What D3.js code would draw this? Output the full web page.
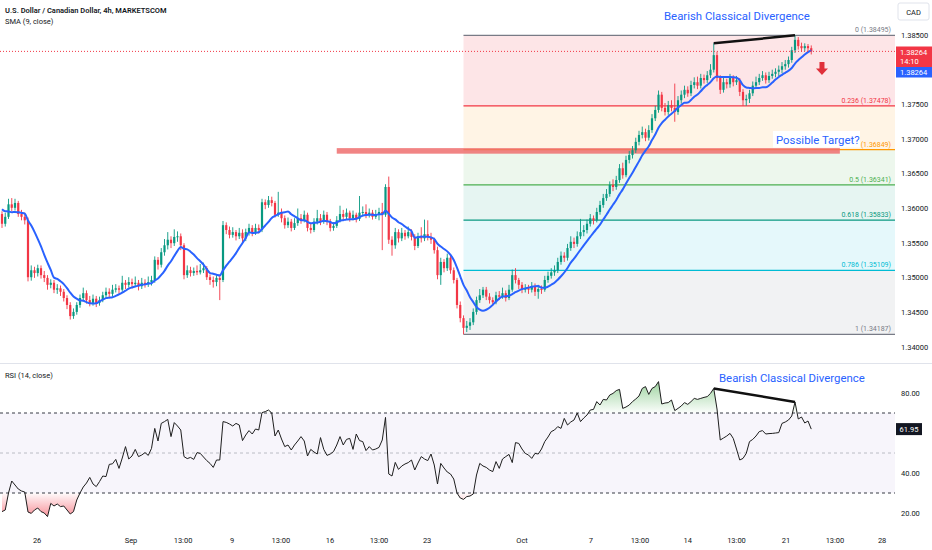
<!DOCTYPE html>
<html>
<head>
<meta charset="utf-8">
<script src="https://cdn.jsdelivr.net/npm/d3@7"></script>
<style>
  body { margin: 0; background: #fff; }
  svg { display: block; font-family: Roboto, "Noto Sans", sans-serif; }
</style>
</head>
<body>
<div id="chart"></div>
<script>
// USDCAD 4h, values (one entry per candle)
const opens = [
  1.3592,1.3578,1.3588,1.3606,1.3601,1.3608,1.3592,1.3588,1.3583,1.3501,
  1.3511,1.3507,1.3514,1.3504,1.3500,1.3490,1.3493,1.3483,1.3485,1.3480,
  1.3471,1.3461,1.3445,1.3451,1.3461,1.3471,1.3478,1.3468,1.3464,1.3470,
  1.3464,1.3468,1.3475,1.3480,1.3477,1.3483,1.3485,1.3483,1.3493,1.3490,
  1.3494,1.3491,1.3493,1.3488,1.3493,1.3491,1.3494,1.3497,1.3526,1.3519,
  1.3537,1.3547,1.3555,1.3550,1.3559,1.3560,1.3547,1.3504,1.3511,1.3507,
  1.3510,1.3508,1.3511,1.3514,1.3501,1.3497,1.3494,1.3500,1.3497,1.3576,
  1.3569,1.3562,1.3566,1.3560,1.3565,1.3557,1.3566,1.3572,1.3565,1.3572,
  1.3569,1.3609,1.3605,1.3612,1.3608,1.3591,1.3594,1.3586,1.3576,1.3581,
  1.3572,1.3579,1.3586,1.3583,1.3591,1.3572,1.3569,1.3581,1.3586,1.3581,
  1.3591,1.3581,1.3572,1.3575,1.3583,1.3592,1.3588,1.3594,1.3586,1.3591,
  1.3585,1.3594,1.3595,1.3591,1.3594,1.3588,1.3592,1.3595,1.3591,1.3631,
  1.3555,1.3547,1.3566,1.3557,1.3565,1.3560,1.3566,1.3559,1.3546,1.3560,
  1.3557,1.3563,1.3559,1.3555,1.3540,1.3504,1.3523,1.3514,1.3529,1.3511,
  1.3497,1.3461,1.3442,1.3428,1.3431,1.3436,1.3451,1.3468,1.3475,1.3483,
  1.3473,1.3468,1.3465,1.3475,1.3473,1.3478,1.3471,1.3483,1.3504,1.3497,
  1.3490,1.3483,1.3485,1.3483,1.3488,1.3480,1.3484,1.3483,1.3497,1.3503,
  1.3508,1.3511,1.3523,1.3532,1.3529,1.3543,1.3552,1.3549,1.3560,1.3566,
  1.3569,1.3578,1.3586,1.3583,1.3595,1.3605,1.3615,1.3621,1.3634,1.3631,
  1.3641,1.3658,1.3648,1.3670,1.3677,1.3684,1.3696,1.3706,1.3710,1.3702,
  1.3713,1.3730,1.3742,1.3764,1.3745,1.3739,1.3749,1.3745,1.3739,1.3756,
  1.3764,1.3771,1.3766,1.3778,1.3782,1.3777,1.3788,1.3785,1.3792,1.3800,
  1.3821,1.3788,1.3771,1.3782,1.3779,1.3788,1.3782,1.3785,1.3768,1.3756,
  1.3758,1.3766,1.3777,1.3782,1.3788,1.3792,1.3785,1.3791,1.3794,1.3797,
  1.3800,1.3805,1.3808,1.3814,1.3828,1.3843,1.3834,1.3831,1.3834,1.3831
];
const highs = [
  1.3596,1.3594,1.3614,1.3615,1.3614,1.3611,1.3598,1.3594,1.3587,1.3518,
  1.3516,1.3519,1.3518,1.3510,1.3504,1.3498,1.3497,1.3491,1.3489,1.3484,
  1.3475,1.3465,1.3456,1.3465,1.3476,1.3486,1.3482,1.3474,1.3476,1.3474,
  1.3473,1.3480,1.3486,1.3485,1.3490,1.3491,1.3489,1.3503,1.3497,1.3501,
  1.3499,1.3502,1.3497,1.3500,1.3498,1.3502,1.3503,1.3531,1.3530,1.3543,
  1.3556,1.3566,1.3560,1.3570,1.3567,1.3564,1.3550,1.3518,1.3516,1.3515,
  1.3518,1.3520,1.3522,1.3517,1.3505,1.3502,1.3504,1.3505,1.3582,1.3580,
  1.3574,1.3573,1.3569,1.3572,1.3570,1.3571,1.3578,1.3576,1.3578,1.3577,
  1.3614,1.3613,1.3618,1.3617,1.3611,1.3624,1.3600,1.3590,1.3587,1.3585,
  1.3586,1.3600,1.3592,1.3597,1.3594,1.3578,1.3586,1.3598,1.3592,1.3597,
  1.3595,1.3585,1.3580,1.3589,1.3604,1.3598,1.3600,1.3597,1.3597,1.3594,
  1.3618,1.3603,1.3606,1.3600,1.3598,1.3598,1.3601,1.3608,1.3635,1.3646,
  1.3560,1.3572,1.3570,1.3572,1.3569,1.3574,1.3570,1.3563,1.3565,1.3573,
  1.3584,1.3583,1.3565,1.3558,1.3545,1.3529,1.3527,1.3535,1.3533,1.3515,
  1.3500,1.3466,1.3446,1.3438,1.3442,1.3456,1.3473,1.3484,1.3487,1.3487,
  1.3478,1.3472,1.3480,1.3481,1.3486,1.3482,1.3490,1.3512,1.3514,1.3500,
  1.3494,1.3491,1.3490,1.3494,1.3492,1.3490,1.3489,1.3503,1.3509,1.3514,
  1.3518,1.3529,1.3538,1.3537,1.3549,1.3560,1.3558,1.3567,1.3585,1.3576,
  1.3584,1.3592,1.3590,1.3601,1.3611,1.3621,1.3628,1.3639,1.3642,1.3647,
  1.3664,1.3666,1.3676,1.3683,1.3690,1.3702,1.3712,1.3718,1.3715,1.3720,
  1.3736,1.3748,1.3770,1.3768,1.3752,1.3755,1.3756,1.3780,1.3762,1.3770,
  1.3777,1.3776,1.3784,1.3789,1.3790,1.3794,1.3793,1.3798,1.3808,1.3838,
  1.3826,1.3792,1.3788,1.3787,1.3794,1.3792,1.3791,1.3788,1.3772,1.3764,
  1.3771,1.3783,1.3790,1.3794,1.3798,1.3796,1.3797,1.3800,1.3802,1.3806,
  1.3811,1.3814,1.3819,1.3833,1.38495,1.3847,1.3839,1.3838,1.3837,1.3835
];
const lows = [
  1.3572,1.3574,1.3585,1.3596,1.3597,1.3588,1.3583,1.3577,1.3495,1.3496,
  1.3500,1.3502,1.3499,1.3494,1.3483,1.3485,1.3478,1.3477,1.3474,1.3466,
  1.3455,1.3440,1.3441,1.3447,1.3457,1.3467,1.3463,1.3459,1.3460,1.3458,
  1.3460,1.3465,1.3471,1.3472,1.3473,1.3479,1.3477,1.3480,1.3484,1.3486,
  1.3485,1.3487,1.3482,1.3484,1.3486,1.3487,1.3489,1.3493,1.3512,1.3515,
  1.3532,1.3541,1.3543,1.3546,1.3552,1.3540,1.3498,1.3500,1.3502,1.3503,
  1.3504,1.3505,1.3507,1.3497,1.3490,1.3486,1.3488,1.3468,1.3494,1.3563,
  1.3557,1.3558,1.3554,1.3556,1.3551,1.3553,1.3561,1.3560,1.3562,1.3564,
  1.3566,1.3599,1.3601,1.3603,1.3587,1.3588,1.3580,1.3571,1.3572,1.3567,
  1.3569,1.3575,1.3578,1.3580,1.3567,1.3564,1.3566,1.3577,1.3576,1.3578,
  1.3576,1.3567,1.3568,1.3572,1.3580,1.3583,1.3584,1.3581,1.3583,1.3580,
  1.3582,1.3589,1.3586,1.3587,1.3584,1.3585,1.3583,1.3540,1.3588,1.3549,
  1.3532,1.3542,1.3551,1.3553,1.3555,1.3557,1.3554,1.3540,1.3543,1.3551,
  1.3553,1.3554,1.3549,1.3535,1.3498,1.3490,1.3508,1.3510,1.3506,1.3492,
  1.3456,1.3436,1.34187,1.3422,1.3425,1.3432,1.3447,1.3464,1.3471,1.3468,
  1.3463,1.3460,1.3462,1.3468,1.3470,1.3466,1.3468,1.3480,1.3492,1.3484,
  1.3478,1.3479,1.3477,1.3479,1.3474,1.3470,1.3477,1.3480,1.3493,1.3499,
  1.3503,1.3507,1.3519,1.3523,1.3525,1.3539,1.3543,1.3545,1.3556,1.3560,
  1.3564,1.3574,1.3577,1.3580,1.3591,1.3601,1.3611,1.3617,1.3625,1.3627,
  1.3637,1.3643,1.3645,1.3665,1.3672,1.3680,1.3691,1.3701,1.3697,1.3698,
  1.3709,1.3726,1.3738,1.3740,1.3734,1.3735,1.3740,1.3725,1.3735,1.3751,
  1.3759,1.3761,1.3762,1.3773,1.3772,1.3773,1.3780,1.3781,1.3788,1.3796,
  1.3783,1.3765,1.3767,1.3773,1.3774,1.3776,1.3778,1.3762,1.3748,1.3748,
  1.3752,1.3762,1.3773,1.3778,1.3784,1.3780,1.3781,1.3787,1.3789,1.3791,
  1.3795,1.3800,1.3803,1.3810,1.3824,1.3829,1.3826,1.3827,1.3826,1.3822
];
const closes = [
  1.3578,1.3588,1.3606,1.3601,1.3608,1.3592,1.3588,1.3583,1.3501,1.3511,
  1.3507,1.3514,1.3504,1.3500,1.3490,1.3493,1.3483,1.3485,1.3480,1.3471,
  1.3461,1.3445,1.3451,1.3461,1.3471,1.3478,1.3468,1.3464,1.3470,1.3464,
  1.3468,1.3475,1.3480,1.3477,1.3483,1.3485,1.3483,1.3493,1.3490,1.3494,
  1.3491,1.3493,1.3488,1.3493,1.3491,1.3494,1.3497,1.3526,1.3519,1.3537,
  1.3547,1.3555,1.3550,1.3559,1.3560,1.3547,1.3504,1.3511,1.3507,1.3510,
  1.3508,1.3511,1.3514,1.3501,1.3497,1.3494,1.3500,1.3497,1.3576,1.3569,
  1.3562,1.3566,1.3560,1.3565,1.3557,1.3566,1.3572,1.3565,1.3572,1.3569,
  1.3609,1.3605,1.3612,1.3608,1.3591,1.3594,1.3586,1.3576,1.3581,1.3572,
  1.3579,1.3586,1.3583,1.3591,1.3572,1.3569,1.3581,1.3586,1.3581,1.3591,
  1.3581,1.3572,1.3575,1.3583,1.3592,1.3588,1.3594,1.3586,1.3591,1.3585,
  1.3594,1.3595,1.3591,1.3594,1.3588,1.3592,1.3595,1.3591,1.3631,1.3555,
  1.3547,1.3566,1.3557,1.3565,1.3560,1.3566,1.3559,1.3546,1.3560,1.3557,
  1.3563,1.3559,1.3555,1.3540,1.3504,1.3523,1.3514,1.3529,1.3511,1.3497,
  1.3461,1.3442,1.3428,1.3431,1.3436,1.3451,1.3468,1.3475,1.3483,1.3473,
  1.3468,1.3465,1.3475,1.3473,1.3478,1.3471,1.3483,1.3504,1.3497,1.3490,
  1.3483,1.3485,1.3483,1.3488,1.3480,1.3484,1.3483,1.3497,1.3503,1.3508,
  1.3511,1.3523,1.3532,1.3529,1.3543,1.3552,1.3549,1.3560,1.3566,1.3569,
  1.3578,1.3586,1.3583,1.3595,1.3605,1.3615,1.3621,1.3634,1.3631,1.3641,
  1.3658,1.3648,1.3670,1.3677,1.3684,1.3696,1.3706,1.3710,1.3702,1.3713,
  1.3730,1.3742,1.3764,1.3745,1.3739,1.3749,1.3745,1.3739,1.3756,1.3764,
  1.3771,1.3766,1.3778,1.3782,1.3777,1.3788,1.3785,1.3792,1.3800,1.3821,
  1.3788,1.3771,1.3782,1.3779,1.3788,1.3782,1.3785,1.3768,1.3756,1.3758,
  1.3766,1.3777,1.3782,1.3788,1.3792,1.3785,1.3791,1.3794,1.3797,1.3800,
  1.3805,1.3808,1.3814,1.3828,1.3843,1.3834,1.3831,1.3834,1.3831,1.38264
];
// the 8 closes before the first visible bar, only needed to start the SMA
const priorCloses = [1.3615,1.3608,1.3612,1.3603,1.3598,1.3595,1.3592,1.3590];

const rsi = [
  20.7,21.5,30,36,34,32,31,30.5,20.5,19.8,
  21.5,22.5,20.7,20,18.2,24.8,23.5,24.5,23.2,23.5,
  21.5,19.5,20.7,26.5,30,33,35,37.8,34.5,33.2,
  35.7,38.5,38.2,44.3,44.6,46.8,42.3,47.5,53.2,47,
  48.5,51.8,48.2,49,50.2,48.8,52.3,62.3,56,64.8,
  65.7,66.8,58.2,65.2,63.5,61.5,48.2,47.2,47.8,46.8,
  50.2,49.8,48,46.2,44.8,42.8,46.5,46.5,65.7,65.3,
  64.5,63.5,64.8,64,56.2,59,61.2,59.5,62,61.5,
  70.2,70.7,71.5,70,58.5,61.5,57,53.2,54,51.5,
  54,56,58.2,56,48.5,51.8,50.5,49.5,57.7,51.8,
  48.8,49.5,50.7,54,58.2,54,56.8,57.3,51.8,59.5,
  56.2,55.7,51.2,53.2,51.5,52,52.8,56.5,67.8,39.5,
  38.5,45.3,41.8,43.5,44.5,45.2,46.5,41.5,45,48.2,
  47,46.2,49.5,44,34.5,44.8,42.5,40.5,39.5,37,
  30,27.5,26.8,28.2,28.5,29.5,39,44.8,43.5,42.8,
  41.5,40.7,45.7,42.3,47,48.2,49.3,45.2,55.2,54.8,
  52,49.8,49,47.3,49.8,49.5,52,55.7,58,60.7,
  61.5,63.2,62.3,67.3,64,65.5,66.5,70,65.7,67.5,
  69,71.5,71.8,75.7,74,76.8,76.5,79,79.8,81.2,
  81.8,72.3,73,74,75.7,77,78.5,82.3,83.2,79.3,
  82.3,83.2,85.7,74.5,75,75.2,76.5,71.2,72.3,73.5,
  75.2,74.3,75.7,77.3,76.8,77.3,77.8,78.2,79.8,82.3,
  72,56.5,57.5,58.5,59.8,57.3,52,46.5,47.3,49.8,
  55.7,56.8,58.5,60.7,61.2,59.5,59.7,59.8,60,60.2,
  64.8,65.5,66.5,68.5,75.5,67,68,65,66,61.95
];

// time axis: bar index of each label
const tickIndex  = [10.8, 39.7, 55.7, 70.8, 85.8, 100.9, 116, 130.8, 160, 181.2, 196.3, 211, 226, 241.2, 256.3, 270.8];
const tickLabels = ["26", "Sep", "13:00", "9", "13:00", "16", "13:00", "23", "Oct", "7", "13:00", "14", "13:00", "21", "13:00", "28"];
// 1.38000 and 60.00 sit under the value tags on the screenshot, so they are not listed
const priceTicks = [1.340, 1.345, 1.350, 1.355, 1.360, 1.365, 1.370, 1.375, 1.385];
const rsiTicks = [20, 40, 80];

// fib retracement drawn from the swing low bar to the swing high
const fibRatios = [0, 0.236, 0.382, 0.5, 0.618, 0.786, 1];
const fibHigh = 1.38495, fibLow = 1.34187, fibStartBar = 142;
const fibColors = ["#787b86", "#f23645", "#ff9800", "#4caf50", "#089981", "#00bcd4", "#787b86"];

// drawings
const targetZone = [1.3679, 1.3687], targetBars = [103, 257.8];
const divBars = [219, 244];           // price highs / rsi highs joined by the divergence lines
const divRsi = [82.3, 75.5];
const arrowBar = 252.3, arrowTop = 1.3811;
const lastPrice = "1.38264", lastSma = "1.38264", barCountdown = "14:10", lastRsi = "61.95";

const W = 932, H = 550, plotRight = 895;
const up = "#089981", down = "#f23645", blue = "#2962ff";

const x = d3.scaleLinear().domain([0, closes.length - 1]).range([2, 2 + 3.25 * (closes.length - 1)]);
const y = d3.scaleLinear().domain([1.340, 1.385]).range([347.3, 35]);
const yR = d3.scaleLinear().domain([20, 80]).range([513, 393]);

const svg = d3.select("#chart").append("svg")
  .attr("width", W).attr("height", H)
  .attr("viewBox", [0, 0, W, H]);

const defs = svg.append("defs");
defs.append("clipPath").attr("id", "clipMain")
  .append("rect").attr("x", 0).attr("y", 0).attr("width", plotRight).attr("height", 363);
defs.append("clipPath").attr("id", "clipRsi")
  .append("rect").attr("x", 0).attr("y", 364).attr("width", plotRight).attr("height", 160);

const main = svg.append("g").attr("clip-path", "url(#clipMain)");

// ---- fib retracement ----
const fibPrice = fibRatios.map(r => fibHigh - (fibHigh - fibLow) * r);
const fibG = main.append("g");
fibG.selectAll("rect").data(d3.range(fibRatios.length - 1)).join("rect")
  .attr("x", x(fibStartBar)).attr("width", plotRight - x(fibStartBar))
  .attr("y", k => y(fibPrice[k]))
  .attr("height", k => y(fibPrice[k + 1]) - y(fibPrice[k]))
  .attr("fill", k => fibColors[k + 1])
  .attr("fill-opacity", k => k === 0 ? 0.13 : 0.1);
fibG.selectAll("line").data(fibPrice).join("line")
  .attr("x1", x(fibStartBar)).attr("x2", plotRight)
  .attr("y1", d => y(d)).attr("y2", d => y(d))
  .attr("stroke", (d, k) => fibColors[k]).attr("stroke-width", 1.2);
// the 0.382 ratio is hidden behind the "Possible Target?" note, only its price shows
fibG.selectAll("text").data(fibPrice).join("text")
  .attr("x", 891).attr("y", d => y(d) - 3)
  .attr("text-anchor", "end")
  .attr("font-size", 7)
  .attr("fill", (d, k) => fibColors[k])
  .text((d, k) => fibRatios[k] === 0.382 ? `(${d.toFixed(5)})` : `${fibRatios[k]} (${d.toFixed(5)})`);

// ---- target zone ----
main.append("rect")
  .attr("x", x(targetBars[0])).attr("width", x(targetBars[1]) - x(targetBars[0]))
  .attr("y", y(targetZone[1])).attr("height", y(targetZone[0]) - y(targetZone[1]))
  .attr("fill", "#ef6f6f").attr("fill-opacity", 0.85);

// ---- candles ----
const bars = d3.range(closes.length);
const colorOf = i => closes[i] >= opens[i] ? up : down;
const cg = main.append("g");
cg.selectAll("line").data(bars).join("line")
  .attr("x1", i => x(i)).attr("x2", i => x(i))
  .attr("y1", i => y(highs[i])).attr("y2", i => y(lows[i]))
  .attr("stroke", colorOf).attr("stroke-width", 0.9);
cg.selectAll("rect").data(bars).join("rect")
  .attr("x", i => x(i) - 1.1).attr("width", 2.2)
  .attr("y", i => y(Math.max(opens[i], closes[i])))
  .attr("height", i => Math.max(1, Math.abs(y(opens[i]) - y(closes[i]))))
  .attr("fill", colorOf);

// ---- SMA 9 ----
const allCloses = priorCloses.concat(closes);
const sma = closes.map((c, i) => d3.mean(allCloses.slice(i, i + 9)));
main.append("path").datum(sma)
  .attr("d", d3.line().x((d, i) => x(i)).y(d => y(d)).curve(d3.curveMonotoneX))
  .attr("fill", "none").attr("stroke", blue).attr("stroke-width", 2);

// last price dotted line
main.append("line")
  .attr("x1", 0).attr("x2", plotRight)
  .attr("y1", y(+lastPrice)).attr("y2", y(+lastPrice))
  .attr("stroke", down).attr("stroke-width", 1).attr("stroke-dasharray", "1,2");

// divergence on price
main.append("line")
  .attr("x1", x(divBars[0])).attr("y1", y(highs[divBars[0]]))
  .attr("x2", x(divBars[1])).attr("y2", y(highs[divBars[1]]))
  .attr("stroke", "#111").attr("stroke-width", 2.5);

// down arrow
const ax = x(arrowBar), ay = y(arrowTop);
main.append("path")
  .attr("d", `M${ax - 2.5},${ay} h5 v6.5 h3.5 l-6,6.5 l-6,-6.5 h3.5 z`)
  .attr("fill", "#e0303a");

// annotations
svg.append("text").attr("x", 664).attr("y", 19.5)
  .attr("font-size", 11.4).attr("fill", blue)
  .text("Bearish Classical Divergence");
svg.append("rect").attr("x", 773).attr("y", 131).attr("width", 87).attr("height", 16.5).attr("fill", "#fff");
svg.append("text").attr("x", 776).attr("y", 143.8)
  .attr("font-size", 11.4).attr("fill", blue)
  .text("Possible Target?");

// legend
svg.append("text").attr("x", 5).attr("y", 13)
  .attr("font-size", 7.5).attr("font-weight", 600).attr("fill", "#131722")
  .text("U.S. Dollar / Canadian Dollar, 4h, MARKETSCOM");
svg.append("text").attr("x", 5).attr("y", 24)
  .attr("font-size", 7.5).attr("fill", "#131722")
  .text("SMA (9, close)");

// ---- price axis ----
svg.append("g").selectAll("text").data(priceTicks).join("text")
  .attr("x", 901).attr("y", d => y(d) + 2.5)
  .attr("font-size", 7.5).attr("fill", "#131722")
  .text(d => d.toFixed(5));
svg.append("rect").attr("x", 898).attr("y", 3).attr("width", 31).attr("height", 17).attr("rx", 2)
  .attr("fill", "#fff").attr("stroke", "#e0e3eb");
svg.append("text").attr("x", 913.5).attr("y", 14.5).attr("text-anchor", "middle")
  .attr("font-size", 7.5).attr("fill", "#131722").text("CAD");

svg.append("rect").attr("x", 896).attr("y", 46.5).attr("width", 36).attr("height", 20.5).attr("fill", down);
svg.append("text").attr("x", 900).attr("y", 55).attr("font-size", 7.5).attr("fill", "#fff").text(lastPrice);
svg.append("text").attr("x", 900).attr("y", 64).attr("font-size", 7.5).attr("fill", "#fff").text(barCountdown);
svg.append("rect").attr("x", 896).attr("y", 67).attr("width", 36).attr("height", 10.5).attr("fill", blue);
svg.append("text").attr("x", 900).attr("y", 75).attr("font-size", 7.5).attr("fill", "#fff").text(lastSma);

// ---- RSI pane ----
svg.append("line").attr("x1", 0).attr("x2", W).attr("y1", 363.5).attr("y2", 363.5)
  .attr("stroke", "#e0e3eb");
svg.append("text").attr("x", 5).attr("y", 378)
  .attr("font-size", 7.5).attr("fill", "#131722").text("RSI (14, close)");

const rg = svg.append("g").attr("clip-path", "url(#clipRsi)");
rg.append("rect").attr("x", 0).attr("width", plotRight)
  .attr("y", yR(70)).attr("height", yR(30) - yR(70))
  .attr("fill", "#7e57c2").attr("fill-opacity", 0.06);

const gUp = defs.append("linearGradient").attr("id", "gUp")
  .attr("gradientUnits", "userSpaceOnUse").attr("x1", 0).attr("x2", 0).attr("y1", yR(86)).attr("y2", yR(70));
gUp.append("stop").attr("offset", 0).attr("stop-color", "#4caf50").attr("stop-opacity", 0.55);
gUp.append("stop").attr("offset", 1).attr("stop-color", "#4caf50").attr("stop-opacity", 0.02);
const gDn = defs.append("linearGradient").attr("id", "gDn")
  .attr("gradientUnits", "userSpaceOnUse").attr("x1", 0).attr("x2", 0).attr("y1", yR(30)).attr("y2", yR(18));
gDn.append("stop").attr("offset", 0).attr("stop-color", "#f23645").attr("stop-opacity", 0.02);
gDn.append("stop").attr("offset", 1).attr("stop-color", "#f23645").attr("stop-opacity", 0.55);

rg.append("path").datum(rsi)
  .attr("d", d3.area().x((d, i) => x(i)).y0(yR(70)).y1(d => yR(Math.max(d, 70))))
  .attr("fill", "url(#gUp)");
rg.append("path").datum(rsi)
  .attr("d", d3.area().x((d, i) => x(i)).y0(yR(30)).y1(d => yR(Math.min(d, 30))))
  .attr("fill", "url(#gDn)");

rg.selectAll("line.band").data([70, 50, 30]).join("line").attr("class", "band")
  .attr("x1", 0).attr("x2", plotRight)
  .attr("y1", d => yR(d)).attr("y2", d => yR(d))
  .attr("stroke", d => d === 50 ? "#9598a1" : "#363a45")
  .attr("stroke-opacity", d => d === 50 ? 0.6 : 1)
  .attr("stroke-dasharray", "3,3");

rg.append("path").datum(rsi)
  .attr("d", d3.line().x((d, i) => x(i)).y(d => yR(d)))
  .attr("fill", "none").attr("stroke", "#1e1e1e").attr("stroke-width", 1);

rg.append("line")
  .attr("x1", x(divBars[0])).attr("y1", yR(divRsi[0]))
  .attr("x2", x(divBars[1])).attr("y2", yR(divRsi[1]))
  .attr("stroke", "#111").attr("stroke-width", 2.5);

svg.append("text").attr("x", 719).attr("y", 381.5)
  .attr("font-size", 11.4).attr("fill", blue)
  .text("Bearish Classical Divergence");

svg.append("g").selectAll("text").data(rsiTicks).join("text")
  .attr("x", 901).attr("y", d => yR(d) + 2.5)
  .attr("font-size", 7.5).attr("fill", "#131722")
  .text(d => d.toFixed(2));
svg.append("rect").attr("x", 896).attr("y", yR(+lastRsi) - 6).attr("width", 26).attr("height", 12).attr("fill", "#131722");
svg.append("text").attr("x", 909).attr("y", yR(+lastRsi) + 2.7).attr("text-anchor", "middle")
  .attr("font-size", 7.5).attr("fill", "#fff").text(lastRsi);

// ---- time axis ----
svg.append("g").selectAll("text").data(tickIndex).join("text")
  .attr("x", d => x(d)).attr("y", 543)
  .attr("text-anchor", "middle")
  .attr("font-size", 7.5).attr("fill", "#131722")
  .text((d, k) => tickLabels[k]);
</script>
</body>
</html>
